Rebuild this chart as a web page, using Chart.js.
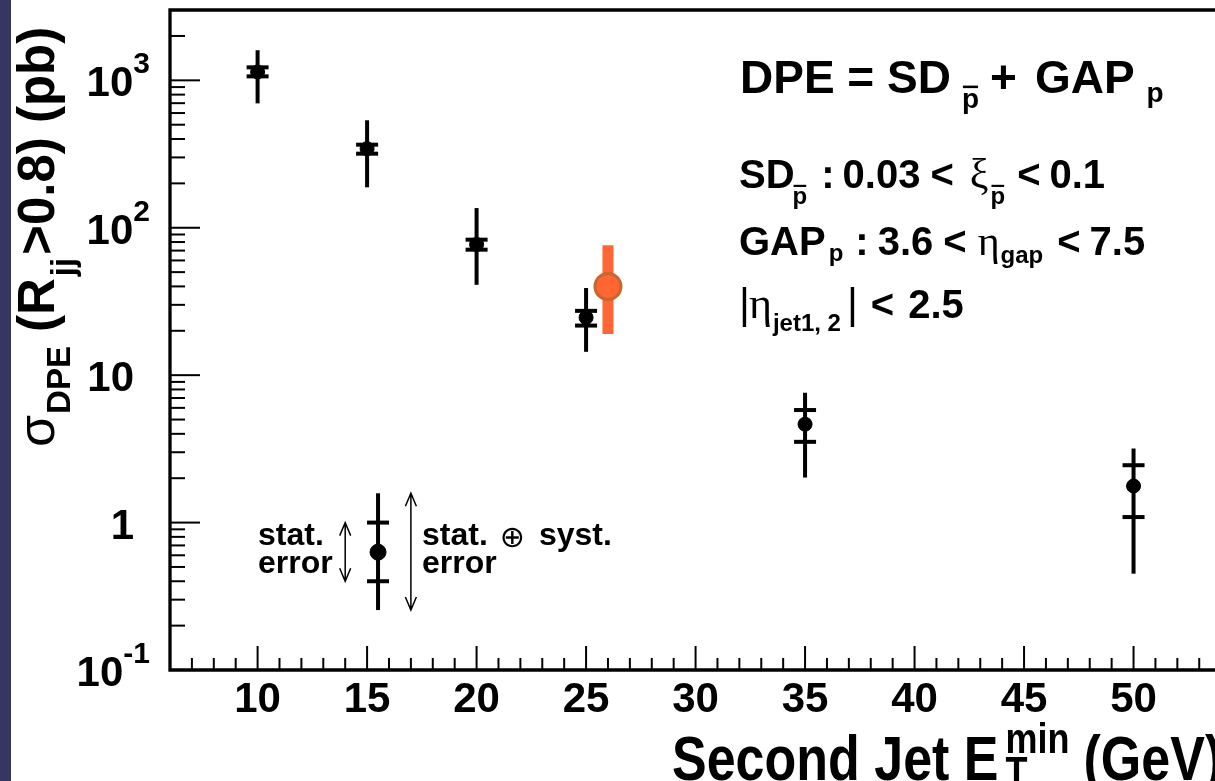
<!DOCTYPE html>
<html lang="en">
<head>
<meta charset="UTF-8">
<title>DPE cross section vs second jet ET min</title>
<script src="https://cdn.jsdelivr.net/npm/chart.js"></script>
<style>
  html, body { margin: 0; padding: 0; background: #fff; overflow: hidden; }
  #wrap { width: 1215px; height: 781px; }
</style>
</head>
<body>
<div id="wrap"><canvas id="c" width="1215" height="781"></canvas></div>
<script>
// measured DPE cross sections
const etMin    = [10, 15, 20, 25, 35, 50];
const sigma    = [1140, 344, 77, 24.6, 4.65, 1.77];
const statUp   = [1225, 366, 83, 27.3, 5.8, 2.45];
const statDown = [1064, 318, 71, 21.7, 3.53, 1.09];
const totUp    = [1600, 536, 136, 39, 7.6, 3.18];
const totDown  = [698, 188, 41, 14.4, 2.02, 0.45];

// the single orange point
const extraX    = [26];
const extraY    = [40];
const extraUp   = [76];
const extraDown = [19];

// error bar key (bottom left)
const keyX      = [15.5];
const keyY      = [0.63];
const keyStat   = [1.0, 0.4];
const keyTot    = [1.58, 0.255];
const keyArrowX = [14, 17];

// axes
const xMin = 6, xMax = 53.72;
const yMin = 0.1, yMax = 3000;
const yTicks    = [0.1, 1, 10, 100, 1000];
const yTickBase = ['10', '1', '10', '10', '10'];
const yTickExp  = ['-1', '', '', '2', '3'];

const SANS  = '"Liberation Sans", Arial, Helvetica, sans-serif';
const SERIF = '"Liberation Serif", "Times New Roman", serif';

// draws a run of text pieces; numbers in the list are extra gaps
function rich(ctx, x, y, parts, stretch) {
  ctx.save();
  ctx.translate(x, y);
  const k = stretch || 1;
  if (k !== 1) ctx.scale(1, k);
  let cx = 0;
  for (const p of parts) {
    if (typeof p === 'number') { cx += p; continue; }
    ctx.font = (p.w || 'bold') + ' ' + p.s + 'px ' + (p.f || SANS);
    const dy = (p.dy || 0) / k;
    ctx.fillText(p.t, cx, dy);
    const wd = ctx.measureText(p.t).width;
    if (p.bar) ctx.fillRect(cx + 1, dy - p.s * 0.8, wd - 2, Math.max(2, p.s * 0.09));
    if (!p.stack) cx += wd;
  }
  ctx.restore();
  return x + cx;
}

function arrow(c, px, y1, y2) {
  const top = Math.min(y1, y2), bot = Math.max(y1, y2);
  c.beginPath();
  c.moveTo(px, top); c.lineTo(px, bot);
  c.moveTo(px - 5.5, top + 13); c.lineTo(px, top); c.lineTo(px + 5.5, top + 13);
  c.moveTo(px - 5.5, bot - 13); c.lineTo(px, bot); c.lineTo(px + 5.5, bot - 13);
  c.stroke();
}

const rootLook = {
  id: 'rootLook',
  beforeDraw(chart) {
    const c = chart.ctx;
    c.save();
    c.fillStyle = '#363663';
    c.fillRect(0, 0, 11, chart.height);
    c.restore();
  },
  beforeDatasetsDraw(chart) {
    const c = chart.ctx, sx = chart.scales.x, sy = chart.scales.y;
    c.save();
    c.strokeStyle = '#000';
    c.lineCap = 'butt';
    const errBar = (xv, lo, hi, sLo, sHi) => {
      const px = sx.getPixelForValue(xv);
      c.lineWidth = 4;
      c.beginPath();
      c.moveTo(px, sy.getPixelForValue(lo));
      c.lineTo(px, sy.getPixelForValue(hi));
      c.stroke();
      [sLo, sHi].forEach(v => {
        const py = sy.getPixelForValue(v);
        c.beginPath();
        c.moveTo(px - 11, py); c.lineTo(px + 11, py);
        c.stroke();
      });
    };
    etMin.forEach((xv, i) => errBar(xv, totDown[i], totUp[i], statDown[i], statUp[i]));
    errBar(keyX[0], keyTot[1], keyTot[0], keyStat[1], keyStat[0]);

    // orange band
    c.strokeStyle = '#ff6633';
    c.lineWidth = 11;
    extraX.forEach((xv, i) => {
      const px = sx.getPixelForValue(xv);
      c.beginPath();
      c.moveTo(px, sy.getPixelForValue(extraDown[i]));
      c.lineTo(px, sy.getPixelForValue(extraUp[i]));
      c.stroke();
    });

    // key arrows
    c.strokeStyle = '#000';
    c.lineWidth = 1.5;
    arrow(c, sx.getPixelForValue(keyArrowX[0]), sy.getPixelForValue(keyStat[0]), sy.getPixelForValue(keyStat[1]));
    arrow(c, sx.getPixelForValue(keyArrowX[1]), sy.getPixelForValue(keyTot[0]), sy.getPixelForValue(keyTot[1]));
    c.restore();
  },
  afterDraw(chart) {
    const c = chart.ctx, sx = chart.scales.x, sy = chart.scales.y;
    const a = chart.chartArea;
    c.save();
    c.fillStyle = '#000';
    c.strokeStyle = '#000';

    // frame
    c.lineWidth = 3.3;
    c.beginPath();
    c.moveTo(a.right + 2, a.top); c.lineTo(a.left, a.top);
    c.lineTo(a.left, a.bottom); c.lineTo(a.right + 2, a.bottom);
    c.stroke();

    // x ticks
    c.lineWidth = 2;
    for (let v = Math.ceil(xMin); v <= Math.floor(xMax); v++) {
      const px = sx.getPixelForValue(v);
      const len = v % 5 === 0 ? 24 : 12;
      c.beginPath(); c.moveTo(px, a.bottom); c.lineTo(px, a.bottom - len); c.stroke();
    }
    // y ticks
    for (let d = -1; d <= 3; d++) {
      for (let m = 1; m <= 9; m++) {
        const v = m * Math.pow(10, d);
        if (v < yMin - 1e-9 || v > yMax) continue;
        const py = sy.getPixelForValue(v);
        const len = m === 1 ? 30 : 15;
        c.beginPath(); c.moveTo(a.left, py); c.lineTo(a.left + len, py); c.stroke();
      }
    }

    // x tick labels
    c.font = 'bold 42px ' + SANS;
    c.textAlign = 'center';
    c.textBaseline = 'alphabetic';
    for (let v = 10; v <= xMax; v += 5) {
      c.fillText(String(v), sx.getPixelForValue(v), 712);
    }

    // y tick labels
    c.textAlign = 'left';
    yTicks.forEach((v, i) => {
      const py = sy.getPixelForValue(v);
      c.font = 'bold 42px ' + SANS;
      const wb = c.measureText(yTickBase[i]).width;
      c.font = 'bold 30px ' + SANS;
      const we = yTickExp[i] ? c.measureText(yTickExp[i]).width : 0;
      const left = yTickExp[i] ? 150 - wb - we : 134 - wb;
      c.font = 'bold 42px ' + SANS;
      c.fillText(yTickBase[i], left, py + 16);
      if (yTickExp[i]) {
        c.font = 'bold 30px ' + SANS;
        c.fillText(yTickExp[i], left + wb, py + 16 - 23);
      }
    });

    // x title
    rich(c, 672, 780, [
      {t: 'Second Jet E', s: 52},
      7,
      {t: 'T', s: 36, dy: 6, stack: true},
      {t: 'min', s: 36, dy: -27},
      14,
      {t: '(GeV)', s: 52}
    ], 1.2);

    // y title (rotated)
    c.save();
    c.translate(54, 447);
    c.rotate(-Math.PI / 2);
    rich(c, 0, 0, [
      {t: 'σ', s: 52, w: 'normal'},
      1,
      {t: 'DPE', s: 33, dy: 16},
      14,
      {t: '(R', s: 51},
      2,
      {t: 'jj', s: 33, dy: 20},
      3,
      {t: '>0.8) (pb)', s: 51}
    ]);
    c.restore();

    // selection text
    rich(c, 740, 93, [
      {t: 'DPE = SD', s: 46}, 11,
      {t: 'p', s: 28, dy: 15, bar: true}, 11,
      {t: '+', s: 46}, 18,
      {t: 'GAP', s: 46}, 12,
      {t: 'p', s: 28, dy: 9}
    ]);
    rich(c, 739, 188, [
      {t: 'SD', s: 40}, -2,
      {t: 'p', s: 24, dy: 16, bar: true}, 14,
      {t: ':', s: 40}, 8,
      {t: '0.03', s: 40}, 10,
      {t: '<', s: 40}, 16,
      {t: 'ξ', s: 42, w: 'normal', f: SERIF}, 2,
      {t: 'p', s: 24, dy: 16, bar: true}, 12,
      {t: '<', s: 40}, 9,
      {t: '0.1', s: 40}
    ]);
    rich(c, 739, 255, [
      {t: 'GAP', s: 40}, 3,
      {t: 'p', s: 24, dy: 6}, 12,
      {t: ':', s: 40}, 9,
      {t: '3.6', s: 40}, 10,
      {t: '<', s: 40}, 11,
      {t: 'η', s: 42, w: 'normal', f: SERIF}, 1,
      {t: 'gap', s: 24, dy: 8}, 14,
      {t: '<', s: 40}, 9,
      {t: '7.5', s: 40}
    ]);
    rich(c, 739, 318, [
      {t: '|', s: 42, w: 'normal'}, -1,
      {t: 'η', s: 44, w: 'normal', f: SERIF}, 1,
      {t: 'jet1, 2', s: 24, dy: 13}, 6,
      {t: '|', s: 42, w: 'normal'}, 13,
      {t: '<', s: 40}, 14,
      {t: '2.5', s: 40}
    ]);

    // key text
    c.font = 'bold 32px ' + SANS;
    c.fillText('stat.', 258, 545);
    c.fillText('error', 258, 573);
    rich(c, 422, 545, [
      {t: 'stat.', s: 32}, 12,
      {t: '⊕', s: 30, w: 'normal', f: '"DejaVu Sans", sans-serif', dy: 2}, 14,
      {t: 'syst.', s: 32}
    ]);
    c.font = 'bold 32px ' + SANS;
    c.fillText('error', 422, 573);
    c.restore();
  }
};

new Chart(document.getElementById('c'), {
  type: 'scatter',
  data: {
    datasets: [
      {
        data: etMin.map((x, i) => ({x: x, y: sigma[i]})),
        pointRadius: 7, backgroundColor: '#000', borderColor: '#000', borderWidth: 1
      },
      {
        data: extraX.map((x, i) => ({x: x, y: extraY[i]})),
        pointRadius: 13, backgroundColor: '#ff6633', borderColor: '#c8662e', borderWidth: 3
      },
      {
        data: keyX.map((x, i) => ({x: x, y: keyY[i]})),
        pointRadius: 8, backgroundColor: '#000', borderColor: '#000', borderWidth: 1
      }
    ]
  },
  options: {
    responsive: false,
    animation: false,
    devicePixelRatio: 1,
    layout: {autoPadding: false, padding: {left: 170, top: 10, right: 0, bottom: 111}},
    plugins: {legend: {display: false}, tooltip: {enabled: false}},
    scales: {
      x: {type: 'linear', min: xMin, max: xMax, display: false},
      y: {type: 'logarithmic', min: yMin, max: yMax, display: false}
    }
  },
  plugins: [rootLook]
});
</script>
</body>
</html>
